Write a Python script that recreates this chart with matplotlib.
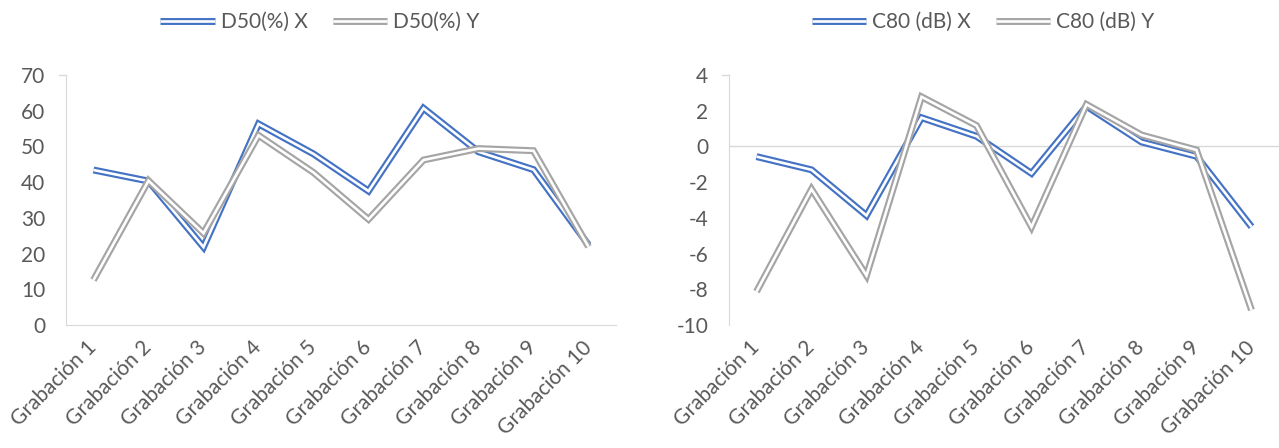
import numpy as np
import matplotlib
matplotlib.use('Agg')
import matplotlib.pyplot as plt
from matplotlib.lines import Line2D

plt.rcParams['font.family'] = ['Lato', 'DejaVu Sans']
plt.rcParams['axes.unicode_minus'] = False

# data
grabaciones = ['Grabación %d' % i for i in range(1, 11)]
d50_x = [43.4, 40.3, 21.8, 56.3, 47.9, 37.5, 60.7, 48.5, 43.5, 22.4]
d50_y = [12.6, 40.4, 25.7, 53.1, 42.7, 29.6, 46.2, 49.4, 48.8, 21.9]
c80_x = [-0.57, -1.31, -3.87, 1.61, 0.57, -1.51, 2.25, 0.25, -0.55, -4.5]
c80_y = [-8.13, -2.39, -7.23, 2.78, 1.17, -4.51, 2.35, 0.64, -0.2, -9.16]

azul = '#4472C4'
gris = '#A5A5A5'
txt = '#595959'
eje = '#D9D9D9'
lw_out = 5.0
lw_in = 1.9
fs = 15

fig = plt.figure(figsize=(12.79, 4.48), dpi=100)
ax1 = fig.add_axes([66/1279, 1-325/448, 550/1279, 250/448])
ax2 = fig.add_axes([729/1279, 1-325/448, 550/1279, 250/448])


def doble(ax, y, color):
    # linea doble: trazo grueso de color con un trazo blanco encima
    x = np.arange(len(y))
    ax.plot(x, y, color=color, lw=lw_out, solid_joinstyle='miter',
            solid_capstyle='butt', zorder=3)
    ax.plot(x, y, color='white', lw=lw_in, solid_joinstyle='miter',
            solid_capstyle='butt', zorder=3)


def estilo(ax, ylim, yticks):
    ax.set_xlim(-0.5, len(grabaciones) - 0.5)
    ax.set_ylim(*ylim)
    ax.set_yticks(yticks)
    ax.set_xticks(np.arange(len(grabaciones)))
    ax.set_xticklabels(grabaciones, rotation=45, ha='right', va='center',
                       rotation_mode='anchor')
    for s in ['top', 'right']:
        ax.spines[s].set_visible(False)
    ax.spines['left'].set_color(eje)
    ax.spines['bottom'].set_color(eje)
    ax.tick_params(axis='both', length=0, labelsize=fs, colors=txt)
    ax.tick_params(axis='y', pad=15)
    ax.tick_params(axis='x', pad=14)
    # pequena marca en el extremo superior del eje
    ax.plot([-0.012, 0], [1, 1], transform=ax.transAxes, color=eje, lw=1,
            clip_on=False)


estilo(ax1, (0, 70), np.arange(0, 71, 10))
doble(ax1, d50_x, azul)
doble(ax1, d50_y, gris)

estilo(ax2, (-10, 4), np.arange(-10, 5, 2))
ax2.spines['bottom'].set_visible(False)
ax2.axhline(0, color=eje, lw=1, zorder=1)
doble(ax2, c80_x, azul)
doble(ax2, c80_y, gris)


def leyenda(etiquetas, xc):
    hs = []
    for c in [azul, gris]:
        hs.append((Line2D([], [], color=c, lw=lw_out, solid_capstyle='butt'),
                   Line2D([], [], color='white', lw=lw_in, solid_capstyle='butt')))
    fig.legend(hs, etiquetas, loc='center', bbox_to_anchor=(xc, 1-22/448),
               ncol=2, frameon=False, fontsize=fs, labelcolor=txt,
               handlelength=2.6, handletextpad=0.3, columnspacing=1.2)


leyenda(['D50(%) X', 'D50(%) Y'], 320/1279)
leyenda(['C80 (dB) X', 'C80 (dB) Y'], 983/1279)

fig.savefig('out.png', dpi=100)
